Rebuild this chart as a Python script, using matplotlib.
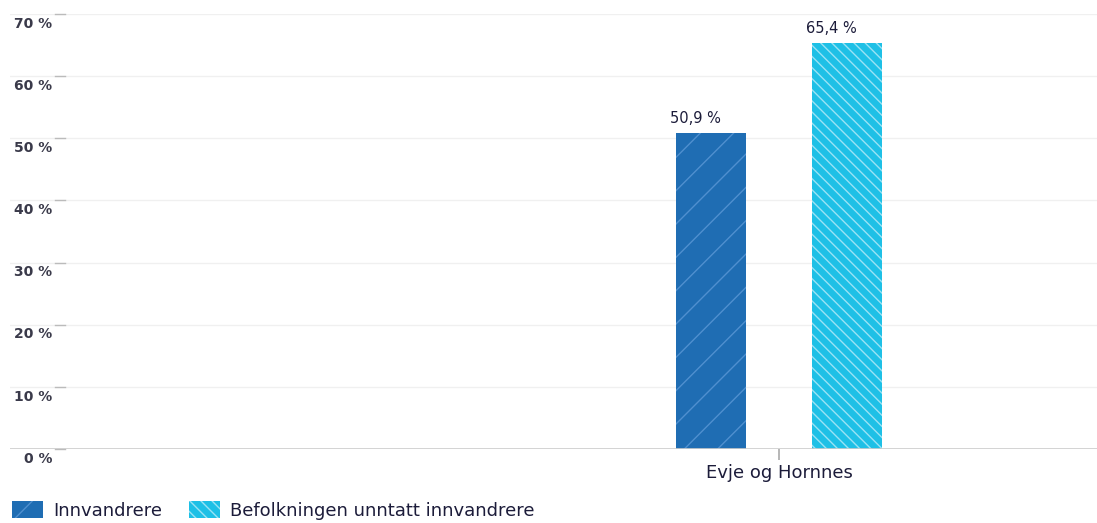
import matplotlib.pyplot as plt
import matplotlib.transforms as mtransforms
from matplotlib.patches import Patch

# data
categories = ["Evje og Hornnes"]
series_names = ["Innvandrere", "Befolkningen unntatt innvandrere"]
innvandrere = [50.9]
befolkning = [65.4]
yticks = [0, 10, 20, 30, 40, 50, 60, 70]

dark = "#1f6db3"
light = "#1ec0e6"
text_col = "#1c1c3a"

plt.rcParams['hatch.linewidth'] = 1.0

W, H = 1097, 523
fig = plt.figure(figsize=(W / 100, H / 100), dpi=100)
ax = fig.add_axes([10 / W, (H - 449) / H, (W - 10) / W, (449 - 14) / H])

x = list(range(len(categories)))
off = 0.5
bw = 0.515
b1 = ax.bar([i - off for i in x], innvandrere, bw, color=dark, edgecolor="#4f8fcf",
            linewidth=0, hatch="/", zorder=2)
b2 = ax.bar([i + off for i in x], befolkning, bw, color=light, edgecolor="#9ae3f5",
            linewidth=0, hatch="\\\\\\", zorder=2)

for bars, vals in ((b1, innvandrere), (b2, befolkning)):
    for r, v in zip(bars, vals):
        ax.annotate(f"{v:.1f} %".replace(".", ","), (r.get_x() + r.get_width() / 2, v),
                    xytext=(-11, 5), textcoords="offset points", ha="center", va="bottom",
                    fontsize=10.5, color=text_col)

ax.set_xlim(-5.654, 2.338)
ax.set_ylim(0, 70)

# gridlines
for t in yticks[1:]:
    ax.axhline(t, color="#f0f0f0", lw=1, zorder=0)
ax.axhline(0, color="#cccccc", lw=1.2, zorder=3)

# y tick labels and short tick marks
trans = mtransforms.blended_transform_factory(ax.transAxes, ax.transData)
for t in yticks:
    ax.annotate(f"{t} %", (42 / (W - 10), t), xycoords=trans, xytext=(0, -2),
                textcoords="offset points", ha="right", va="top",
                fontsize=10, color="#3a3a4a", fontweight="bold")
    ax.plot([45 / (W - 10), 55 / (W - 10)], [t, t], transform=trans, color="#bbbbbb",
            lw=1, clip_on=False)

ax.set_yticks([])
ax.set_xticks(x)
ax.set_xticklabels(categories, fontsize=13, color=text_col)
ax.tick_params(axis="x", length=8, color="#aaaaaa", width=1.2, pad=3)
for s in ax.spines.values():
    s.set_visible(False)

handles = [Patch(facecolor=dark, edgecolor="#4f8fcf", hatch="/", linewidth=0),
           Patch(facecolor=light, edgecolor="#9ae3f5", hatch="\\\\\\", linewidth=0)]
fig.legend(handles, series_names, loc="lower left", bbox_to_anchor=(-4 / W, -0.025),
           ncol=2, frameon=False, fontsize=13, handlelength=1.7, handleheight=1.05,
           columnspacing=1.5, handletextpad=0.55, labelcolor=text_col)

fig.savefig("out.png", dpi=100)
